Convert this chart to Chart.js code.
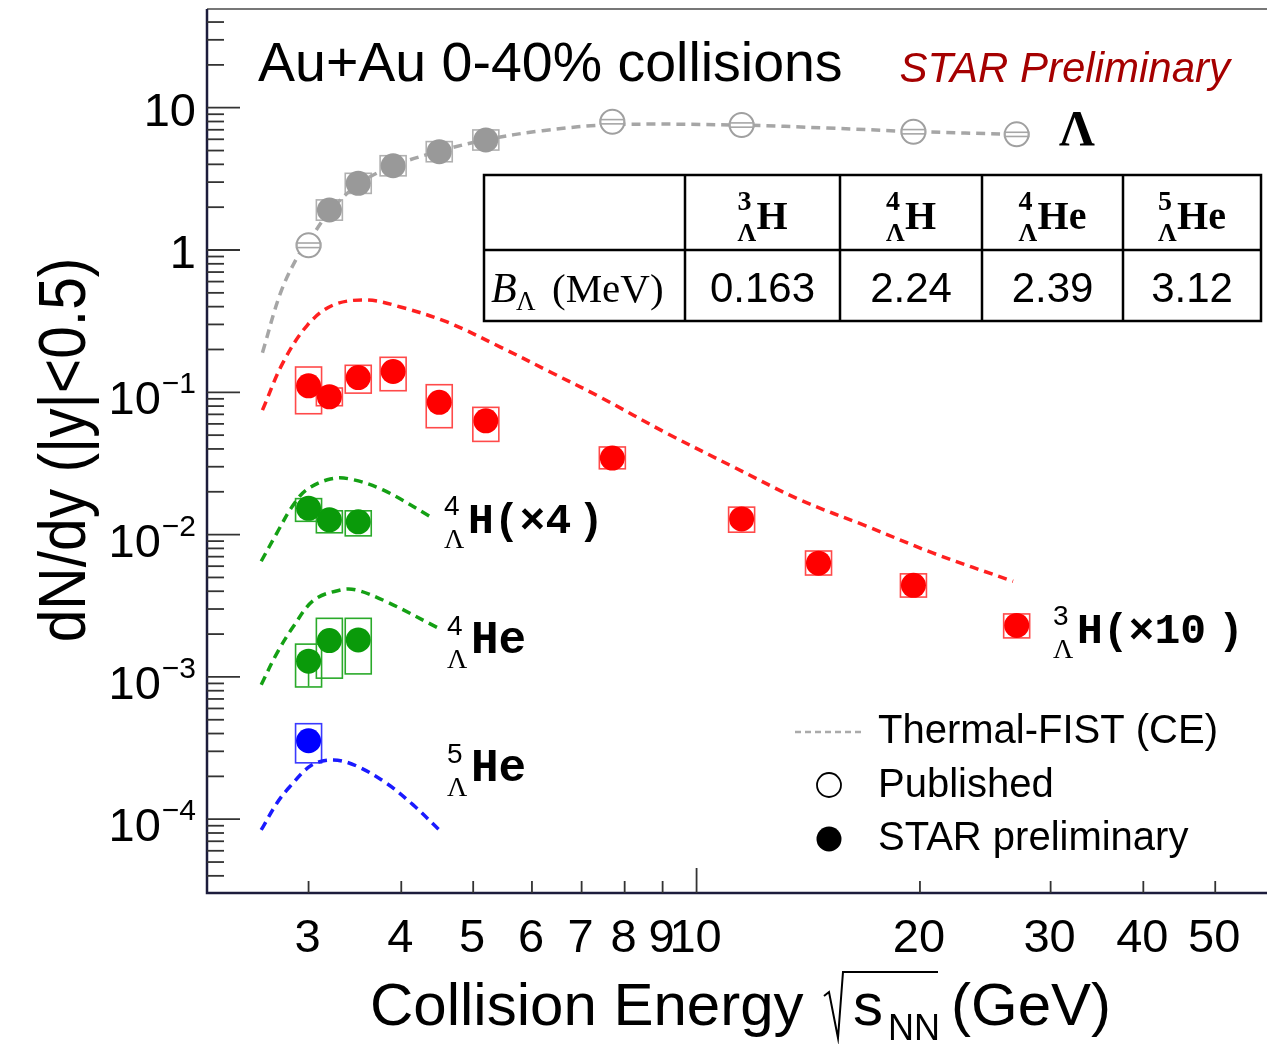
<!DOCTYPE html>
<html>
<head>
<meta charset="utf-8">
<script src="https://cdn.jsdelivr.net/npm/chart.js@4.4.1/dist/chart.umd.min.js"></script>
<style>
  html, body { margin:0; padding:0; background:#fff; overflow:hidden; }
  canvas { display:block; }
</style>
</head>
<body>
<canvas id="myChart" width="1300" height="1044" style="width:1300px;height:1044px"></canvas>
<script>
// ---- values ----
// Lambda, published (open) and STAR preliminary (filled)
const lamPubE  = [3.0, 7.7, 11.5, 19.6, 27.0];
const lamPubY  = [1.08, 7.97, 7.56, 6.78, 6.50];
const lamPubLo = [1.04, 7.70, 7.30, 6.55, 6.28];
const lamPubHi = [1.12, 8.25, 7.82, 7.02, 6.72];
const lamPrelE  = [3.2, 3.5, 3.9, 4.5, 5.2];
const lamPrelY  = [1.91, 2.94, 3.91, 4.91, 5.93];
const lamPrelLo = [1.62, 2.50, 3.32, 4.17, 5.04];
const lamPrelHi = [2.25, 3.46, 4.60, 5.78, 6.98];

// 3ΛH (x10)
const h3E  = [3.0, 3.2, 3.5, 3.9, 4.5, 5.2, 7.7, 11.5, 14.6, 19.6, 27.0];
const h3Y  = [0.111, 0.093, 0.127, 0.140, 0.085, 0.063, 0.0345, 0.0129, 0.0063, 0.0044, 0.0023];
const h3Lo = [0.0707, 0.0805, 0.0987, 0.1026, 0.0564, 0.0452, 0.0290, 0.0104, 0.0052, 0.00364, 0.00188];
const h3Hi = [0.1506, 0.1072, 0.1548, 0.1762, 0.1131, 0.0784, 0.0413, 0.0156, 0.00767, 0.0053, 0.00277];

// 4ΛH (x4)
const h4E  = [3.0, 3.2, 3.5];
const h4Y  = [0.0153, 0.0127, 0.0123];
const h4Lo = [0.0124, 0.0103, 0.0098];
const h4Hi = [0.0179, 0.0147, 0.0147];

// 4ΛHe
const he4E  = [3.0, 3.2, 3.5];
const he4Y  = [0.00129, 0.00180, 0.00182];
const he4Lo = [0.00085, 0.00098, 0.00105];
const he4Hi = [0.00170, 0.00258, 0.00258];
const he4StatLo = [0.00086, null, null];

// 5ΛHe
const he5E  = [3.0];
const he5Y  = [0.000356];
const he5Lo = [0.000249];
const he5Hi = [0.000469];

// Thermal-FIST (CE) curves
const lamModE = [2.6, 2.75, 2.9, 3.0, 3.2, 3.5, 3.9, 4.5, 5.2, 6.2, 7.7, 11.5, 15, 19.6, 27];
const lamModY = [0.19, 0.50, 0.90, 1.15, 1.85, 2.9, 3.9, 4.95, 5.95, 6.9, 7.6, 7.55, 7.2, 6.8, 6.5];
const h3ModE = [2.6, 2.77, 2.99, 3.24, 3.6, 3.99, 4.61, 5.44, 6.35, 7.41, 9.12, 11.2, 13.8, 17.0, 20.85, 26.7];
const h3ModY = [0.075, 0.161, 0.297, 0.411, 0.445, 0.398, 0.312, 0.208, 0.139, 0.0927, 0.0515, 0.030, 0.0175, 0.0114, 0.0074, 0.0047];
const h4ModE = [2.59, 2.72, 2.85, 2.98, 3.21, 3.41, 3.78, 4.42];
const h4ModY = [0.0065, 0.0103, 0.0157, 0.0206, 0.0246, 0.0246, 0.0206, 0.0130];
const he4ModE = [2.59, 2.72, 2.86, 3.05, 3.31, 3.48, 3.82, 4.49];
const he4ModY = [0.00088, 0.00147, 0.00225, 0.00347, 0.00408, 0.00408, 0.00338, 0.0022];
const he5ModE = [2.59, 2.72, 2.83, 3.03, 3.24, 3.48, 3.82, 4.15, 4.49];
const he5ModY = [8.4e-5, 1.3e-4, 1.69e-4, 2.40e-4, 2.61e-4, 2.37e-4, 1.79e-4, 1.26e-4, 8.5e-5];

// axes
const xTicks = [3, 4, 5, 6, 7, 8, 9, 10, 20, 30, 40, 50];
const xMajorTicks = [10];
const yDecades = [-4, -3, -2, -1, 0, 1];

// binding-energy table
const tableMass = ["3", "4", "4", "5"];
const tableSym  = ["H", "H", "He", "He"];
const tableB    = ["0.163", "2.24", "2.39", "3.12"];

const SANS = '"Liberation Sans", Arial, Helvetica, sans-serif';
const SERIF = '"Liberation Serif", "Times New Roman", serif';
const MONO = '"Liberation Mono", "Courier New", monospace';

function pts(xs, ys) { return xs.map((v, i) => ({x: v, y: ys[i]})); }

function curve(xs, ys, color) {
  return {
    data: pts(xs, ys), showLine: true, pointRadius: 0, borderColor: color,
    borderWidth: 3.5, borderDash: [9, 6], tension: 0.35, order: 5
  };
}
function marks(xs, ys, lo, hi, fill, box, extra) {
  return Object.assign({
    data: pts(xs, ys), showLine: false, pointRadius: 12.5, pointHoverRadius: 12.5,
    backgroundColor: fill, borderColor: fill, borderWidth: 0,
    sysLo: lo, sysHi: hi, boxColor: box, order: 1
  }, extra || {});
}

function drawBoxes(chart, front) {
  const {ctx, scales: {x, y}} = chart;
  chart.data.datasets.forEach(ds => {
    if (!ds.sysLo || !!ds.boxFront !== front) return;
    ctx.save();
    ctx.strokeStyle = ds.boxColor;
    ctx.lineWidth = 1.6;
    const hw = ds.boxHalf || 13;
    ds.data.forEach((p, i) => {
      const px = x.getPixelForValue(p.x);
      const y1 = y.getPixelForValue(ds.sysHi[i]);
      const y2 = y.getPixelForValue(ds.sysLo[i]);
      ctx.strokeRect(px - hw, y1, 2 * hw, y2 - y1);
      if (ds.statLo && ds.statLo[i] != null) {
        ctx.beginPath();
        ctx.moveTo(px, y.getPixelForValue(p.y));
        ctx.lineTo(px, y.getPixelForValue(ds.statLo[i]));
        ctx.stroke();
      }
    });
    ctx.restore();
  });
}

const sysBoxes = {
  id: 'sysBoxes',
  beforeDatasetsDraw(chart) { drawBoxes(chart, false); },
  afterDatasetsDraw(chart) { drawBoxes(chart, true); }
};

function nuclide(ctx, x, base, mass, sym, f) {
  ctx.font = f.sup; ctx.fillText(mass, x, base + f.supDy);
  ctx.font = f.lam; ctx.fillText('Λ', x, base + f.lamDy);
  ctx.font = f.sym; ctx.fillText(sym, x + f.gap, base);
}

const decor = {
  id: 'decor',
  afterDraw(chart) {
    const {ctx, chartArea: a, scales: {x, y}} = chart;
    ctx.save();
    ctx.textBaseline = 'alphabetic';

    // frame
    ctx.strokeStyle = '#777';
    ctx.lineWidth = 2;
    ctx.beginPath(); ctx.moveTo(a.left, a.top); ctx.lineTo(a.right, a.top); ctx.stroke();
    ctx.strokeStyle = '#1c1c3c';
    ctx.lineWidth = 2.5;
    ctx.beginPath();
    ctx.moveTo(a.left, a.top); ctx.lineTo(a.left, a.bottom); ctx.lineTo(a.right, a.bottom);
    ctx.stroke();

    // y ticks
    ctx.strokeStyle = '#333';
    ctx.lineWidth = 1.8;
    for (let d = -5; d <= 1; d++) {
      for (let m = 1; m <= 9; m++) {
        const v = m * Math.pow(10, d);
        if (v < y.min || v > y.max) continue;
        const py = y.getPixelForValue(v);
        ctx.beginPath(); ctx.moveTo(a.left, py); ctx.lineTo(a.left + (m === 1 ? 33 : 17), py); ctx.stroke();
      }
    }
    // x ticks
    xTicks.forEach(v => {
      const px = x.getPixelForValue(v);
      ctx.beginPath(); ctx.moveTo(px, a.bottom);
      ctx.lineTo(px, a.bottom - (xMajorTicks.includes(v) ? 25 : 12)); ctx.stroke();
    });

    // tick labels
    ctx.fillStyle = '#000';
    ctx.font = '47px ' + SANS;
    ctx.textAlign = 'center';
    xTicks.forEach(v => ctx.fillText(String(v), x.getPixelForValue(v) - 1, 952));

    ctx.textAlign = 'right';
    yDecades.forEach(d => {
      const py = y.getPixelForValue(Math.pow(10, d));
      if (d === 0 || d === 1) {
        ctx.font = '47px ' + SANS;
        ctx.fillText(d === 0 ? '1' : '10', 196, py + 18);
      } else {
        ctx.font = '30px ' + SANS;
        const sup = '\u2212' + (-d);
        const sw = ctx.measureText(sup).width;
        ctx.fillText(sup, 196, py + 1);
        ctx.font = '47px ' + SANS;
        ctx.fillText('10', 196 - sw - 1, py + 22);
      }
    });

    // axis titles
    ctx.textAlign = 'left';
    ctx.font = '60px ' + SANS;
    ctx.fillText('Collision Energy', 370, 1025);
    ctx.lineWidth = 2;
    ctx.strokeStyle = '#000';
    ctx.beginPath();
    ctx.moveTo(824, 996); ctx.lineTo(829, 992); ctx.lineTo(838, 1038);
    ctx.lineTo(843, 972); ctx.lineTo(938, 972);
    ctx.stroke();
    ctx.fillText('s', 853, 1025);
    ctx.font = '36px ' + SANS;
    ctx.fillText('NN', 888, 1040);
    ctx.font = '60px ' + SANS;
    ctx.fillText('(GeV)', 951, 1025);

    ctx.save();
    ctx.translate(85, 450);
    ctx.rotate(-Math.PI / 2);
    ctx.scale(0.89, 1);
    ctx.textAlign = 'center';
    ctx.font = '66px ' + SANS;
    ctx.fillText('dN/dy (|y|<0.5)', 0, 0);
    ctx.restore();

    // headline texts
    ctx.textAlign = 'left';
    ctx.font = '55.5px ' + SANS;
    ctx.fillText('Au+Au 0-40% collisions', 258, 81);
    ctx.textAlign = 'right';
    ctx.fillStyle = '#a50000';
    ctx.font = 'italic 42px ' + SANS;
    ctx.fillText('STAR Preliminary', 1230, 82);
    ctx.fillStyle = '#000';
    ctx.textAlign = 'left';
    ctx.font = 'bold 50px ' + SERIF;
    ctx.fillText('Λ', 1059, 145);

    // species labels
    const lf = {sup: '28px ' + SANS, lam: '28px ' + SERIF, sym: 'bold 43px ' + MONO, supDy: -18, lamDy: 15, gap: 24};
    nuclide(ctx, 1053, 643, '3', 'H(×10', lf);
    ctx.fillText(')', 1218, 643);
    nuclide(ctx, 444, 533, '4', 'H(×4', lf);
    ctx.fillText(')', 578, 533);
    const hef = Object.assign({}, lf, {sym: 'bold 46px ' + MONO});
    nuclide(ctx, 447, 653, '4', 'He', hef);
    nuclide(ctx, 447, 781, '5', 'He', hef);

    // legend
    ctx.strokeStyle = '#aaa';
    ctx.lineWidth = 2.5;
    ctx.setLineDash([6, 4]);
    ctx.beginPath(); ctx.moveTo(795, 732); ctx.lineTo(862, 732); ctx.stroke();
    ctx.setLineDash([]);
    ctx.strokeStyle = '#000';
    ctx.lineWidth = 1.8;
    ctx.beginPath(); ctx.arc(829, 785, 12, 0, Math.PI * 2); ctx.stroke();
    ctx.beginPath(); ctx.arc(829, 839, 12.5, 0, Math.PI * 2); ctx.fill();
    ctx.font = '40px ' + SANS;
    ctx.fillText('Thermal-FIST (CE)', 878, 743);
    ctx.fillText('Published', 878, 797);
    ctx.fillText('STAR preliminary', 878, 850);

    // table
    const tx = [484, 685, 840, 982, 1123, 1261];
    const ty = [175, 250, 321];
    ctx.fillStyle = '#fff';
    ctx.fillRect(tx[0], ty[0], tx[5] - tx[0], ty[2] - ty[0]);
    ctx.strokeStyle = '#000';
    ctx.lineWidth = 2.5;
    ctx.strokeRect(tx[0], ty[0], tx[5] - tx[0], ty[2] - ty[0]);
    ctx.beginPath();
    ctx.moveTo(tx[0], ty[1]); ctx.lineTo(tx[5], ty[1]);
    for (let i = 1; i < 5; i++) { ctx.moveTo(tx[i], ty[0]); ctx.lineTo(tx[i], ty[2]); }
    ctx.stroke();
    ctx.fillStyle = '#000';
    const hf = {sup: 'bold 28px ' + SERIF, lam: 'bold 26px ' + SERIF, sym: 'bold 40px ' + SERIF, supDy: -19, lamDy: 12, gap: 19};
    for (let i = 0; i < 4; i++) {
      ctx.font = hf.sym;
      const w = hf.gap + ctx.measureText(tableSym[i]).width;
      const cx = (tx[i + 1] + tx[i + 2]) / 2;
      nuclide(ctx, cx - w / 2, 229, tableMass[i], tableSym[i], hf);
      ctx.font = '42px ' + SANS;
      ctx.textAlign = 'center';
      ctx.fillText(tableB[i], cx, 302);
      ctx.textAlign = 'left';
    }
    ctx.font = 'italic 42px ' + SERIF;
    ctx.fillText('B', 491, 302);
    ctx.font = '27px ' + SERIF;
    ctx.fillText('Λ', 516, 310);
    ctx.font = '41px ' + SERIF;
    ctx.fillText('(MeV)', 552, 302);

    ctx.restore();
  }
};

new Chart('myChart', {
  type: 'scatter',
  data: {
    datasets: [
      curve(lamModE, lamModY, '#a6a6a6'),
      curve(h3ModE, h3ModY, '#ff2020'),
      curve(h4ModE, h4ModY, '#14a014'),
      curve(he4ModE, he4ModY, '#14a014'),
      curve(he5ModE, he5ModY, '#1a1aff'),
      marks(lamPrelE, lamPrelY, lamPrelLo, lamPrelHi, '#999999', '#b0b0b0'),
      marks(lamPubE, lamPubY, lamPubLo, lamPubHi, '#ffffff', '#a6a6a6',
        {pointRadius: 12, borderColor: '#a0a0a0', pointBorderColor: '#a0a0a0', borderWidth: 2, boxFront: true, boxHalf: 12}),
      marks(h3E, h3Y, h3Lo, h3Hi, '#ff0000', '#ff4a4a'),
      marks(h4E, h4Y, h4Lo, h4Hi, '#0a9a0a', '#2aaa2a'),
      marks(he4E, he4Y, he4Lo, he4Hi, '#0a9a0a', '#2aaa2a', {statLo: he4StatLo}),
      marks(he5E, he5Y, he5Lo, he5Hi, '#0000ff', '#3a3aff')
    ]
  },
  options: {
    responsive: false,
    animation: false,
    layout: {autoPadding: false, padding: {left: 207, top: 9, right: 26, bottom: 151}},
    plugins: {legend: {display: false}, tooltip: {enabled: false}},
    scales: {
      x: {type: 'logarithmic', min: 2.189, max: 60, display: false},
      y: {type: 'logarithmic', min: 3.03e-5, max: 49.4, display: false}
    }
  },
  plugins: [sysBoxes, decor]
});
</script>
</body>
</html>
